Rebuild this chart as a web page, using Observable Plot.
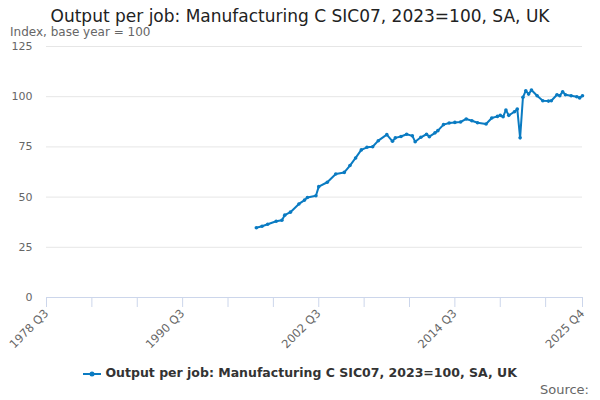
<!DOCTYPE html>
<html><head><meta charset="utf-8">
<script src="https://cdn.jsdelivr.net/npm/d3@7"></script>
<script src="https://cdn.jsdelivr.net/npm/@observablehq/plot@0.6"></script>
<style>
body{margin:0;width:600px;height:400px;position:relative;font-family:"DejaVu Sans",sans-serif;background:#fff;overflow:hidden}
#title{position:absolute;top:6px;width:600px;text-align:center;font-size:17px;line-height:20px;color:#222}
#sub{position:absolute;top:25px;left:10px;font-size:12px;line-height:14px;color:#666}
#chart{position:absolute;top:38px;left:0}
#legend{position:absolute;top:365px;width:600px;text-align:center;font-size:12.5px;font-weight:bold;color:#333}
#src{position:absolute;top:382px;right:11px;font-size:13px;color:#666}
</style></head><body>
<div id="title">Output per job: Manufacturing C SIC07, 2023=100, SA, UK</div>
<div id="sub">Index, base year = 100</div>
<div id="chart"></div>
<div id="legend"><svg width="18" height="10" style="vertical-align:middle"><line x1="0" y1="5" x2="18" y2="5" stroke="#0a7bc2" stroke-width="2"/><circle cx="9" cy="5" r="2.5" fill="#0a7bc2"/></svg> Output per job: Manufacturing C SIC07, 2023=100, SA, UK</div>
<div id="src">Source:</div>
<script>
const periods = [1997.0,1997.5,1998.0,1998.75,1999.25,1999.5,2000.0,2000.75,2001.25,2001.5,2002.25,2002.5,2003.25,2004.0,2004.75,2005.25,2005.75,2006.25,2006.75,2007.25,2007.75,2008.5,2009.0,2009.25,2009.75,2010.25,2010.75,2011.0,2011.5,2012.0,2012.25,2012.75,2013.0,2013.5,2014.0,2014.5,2015.0,2015.5,2016.0,2016.5,2017.25,2017.75,2018.25,2018.5,2018.75,2019.0,2019.25,2019.75,2020.0,2020.25,2020.5,2020.75,2021.0,2021.25,2021.75,2022.25,2022.75,2023.0,2023.5,2023.75,2024.0,2024.25,2024.75,2025.25,2025.5,2025.75];
const values = [34.7,35.5,36.5,38.0,38.5,41.0,42.5,46.6,48.5,49.8,50.7,55.2,57.4,61.5,62.3,65.7,69.5,73.5,74.8,75.1,78.1,81.1,77.8,79.5,80.2,81.3,80.5,77.6,79.8,81.3,80.1,82.0,83.1,86.1,86.9,87.2,87.4,88.9,88.0,87.0,86.4,89.4,90.2,90.7,90.0,93.4,90.7,92.5,93.9,79.5,99.7,103.0,101.3,103.3,100.5,98.0,97.8,98.0,101.0,100.5,102.5,101.0,100.5,100.0,99.4,100.5];
const data = periods.map((p,i)=>({p, v: values[i]}));
const xTicks = d3.range(1978.5, 2025, 4).concat([2025.75]);
const xLabels = {1978.5:"1978 Q3",1990.5:"1990 Q3",2002.5:"2002 Q3",2014.5:"2014 Q3",2025.75:"2025 Q4"};
const yTicks = [0,25,50,75,100,125];
const c = "#0a7bc2";
const plot = Plot.plot({
  width: 600, height: 320, marginTop: 8, marginLeft: 46, marginRight: 18, marginBottom: 61,
  style: {fontFamily: '"DejaVu Sans",sans-serif', fontSize: "11px", color: "#666"},
  x: {domain: [1978.5, 2025.75]},
  y: {domain: [0, 125]},
  marks: [
    Plot.gridY(yTicks, {stroke: "#e6e6e6", strokeOpacity: 1}),
    Plot.axisY(yTicks, {tickSize: 0, tickPadding: 14, label: null, fill: "#666"}),
    Plot.ruleY([0], {stroke: "#ccd6eb"}),
    Plot.axisX(xTicks, {tickSize: 10, stroke: "#ccd6eb", tickFormat: d => xLabels[d] ?? "", tickRotate: -45, label: null, fill: "#666", fontSize: 11.5, tickPadding: 4}),
    Plot.line(data, {x: "p", y: "v", stroke: c, strokeWidth: 2}),
    Plot.dot(data, {x: "p", y: "v", fill: c, r: 1.8})
  ]
});
document.getElementById("chart").appendChild(plot);
</script>
</body></html>
